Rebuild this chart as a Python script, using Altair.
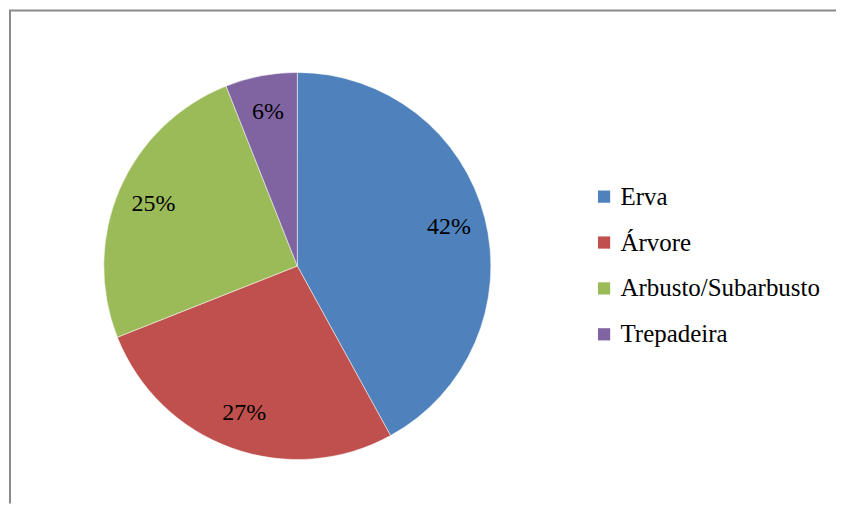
import altair as alt
import pandas as pd

categories = ["Erva", "Árvore", "Arbusto/Subarbusto", "Trepadeira"]
values = [42, 27, 25, 6]
labels = ["42%", "27%", "25%", "6%"]
colors = ["#4F81BD", "#C0504D", "#9BBB59", "#8064A2"]

df = pd.DataFrame({"cat": categories, "val": values, "lab": labels, "ord": list(range(len(categories)))})

W, H = 829, 496
CX, CY = 289, 258
FONT = "serif"

base = alt.Chart(df).encode(
    theta=alt.Theta("val:Q", stack=True),
    order=alt.Order("ord:Q"),
    x=alt.value(CX),
    y=alt.value(CY),
)

pie = base.mark_arc(radius=194, stroke="white", strokeWidth=0.5).encode(
    color=alt.Color(
        "cat:N",
        scale=alt.Scale(domain=categories, range=colors),
        sort=categories,
        legend=alt.Legend(
            title=None,
            orient="none",
            legendX=584,
            legendY=176,
            padding=0,
            symbolType="square",
            symbolSize=150,
            symbolStrokeWidth=0,
            labelFont=FONT,
            labelFontSize=25,
            labelColor="black",
            labelLimit=400,
            rowPadding=20,
            labelOffset=4,
        ),
    )
)

text = base.mark_text(radius=157, font=FONT, fontSize=24, color="black").encode(
    text="lab:N"
)

border_df = pd.DataFrame({"k": [0]})
top = alt.Chart(border_df).mark_rule(color="#8a8a8a", strokeWidth=2).encode(
    x=alt.value(0), x2=alt.value(W), y=alt.value(2)
)
left = alt.Chart(border_df).mark_rule(color="#8a8a8a", strokeWidth=2).encode(
    x=alt.value(1), y=alt.value(2), y2=alt.value(H)
)

chart = alt.layer(pie, text, top, left).properties(
    width=W, height=H, padding=0
).configure_view(stroke=None)

chart.save("out.html", embed_options={"renderer": "svg", "actions": False})
